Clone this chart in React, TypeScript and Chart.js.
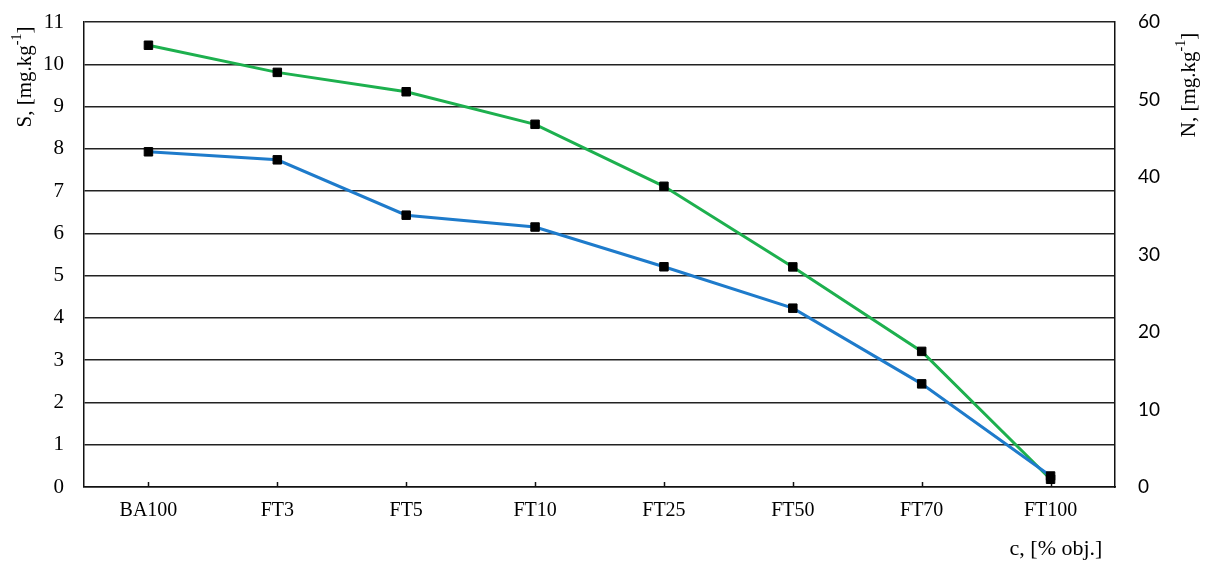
import React, { useEffect, useRef } from "react";
import { Chart, registerables } from "chart.js";

Chart.register(...registerables);

// Samples along the x axis
const categories = ["BA100", "FT3", "FT5", "FT10", "FT25", "FT50", "FT70", "FT100"];
// S content, mg.kg-1 (left axis)
const sValues = [7.93, 7.74, 6.43, 6.15, 5.21, 4.23, 2.44, 0.26];
// N content, mg.kg-1 (right axis)
const nValues = [57.0, 53.5, 51.0, 46.8, 38.8, 28.4, 17.5, 1.0];
// Axis ranges
const sMax = 11;
const nMax = 60;
const nStep = 10;

const SERIF = "'Liberation Serif', 'Times New Roman', serif";
const SANS = "Lato, 'Noto Sans', sans-serif";

// Draws a label with a "-1" superscript after "kg", e.g. "S, [mg.kg⁻¹]"
function drawSupLabel(ctx: CanvasRenderingContext2D, prefix: string, x: number, y: number, size: number) {
  const main1 = prefix + ", [mg.kg";
  const sup = "-1";
  const main2 = "]";
  const supSize = Math.round(size * 0.65);
  ctx.font = `${size}px ${SERIF}`;
  const w1 = ctx.measureText(main1).width;
  const w3 = ctx.measureText(main2).width;
  ctx.font = `${supSize}px ${SERIF}`;
  const w2 = ctx.measureText(sup).width;
  const total = w1 + w2 + w3;
  ctx.save();
  ctx.translate(x, y);
  ctx.rotate(-Math.PI / 2);
  ctx.textBaseline = "middle";
  ctx.textAlign = "left";
  ctx.fillStyle = "#000";
  let cx = -total / 2;
  ctx.font = `${size}px ${SERIF}`;
  ctx.fillText(main1, cx, 0);
  cx += w1;
  ctx.font = `${supSize}px ${SERIF}`;
  ctx.fillText(sup, cx, -size * 0.35);
  cx += w2;
  ctx.font = `${size}px ${SERIF}`;
  ctx.fillText(main2, cx, 0);
  ctx.restore();
}

const decorations = {
  id: "decorations",
  beforeDatasetsDraw(chart: any) {
    const { ctx, chartArea, scales } = chart;
    const x = scales.x;
    ctx.save();
    ctx.strokeStyle = "#111";
    ctx.lineWidth = 1.5;
    for (let i = 0; i < categories.length; i++) {
      const px = Math.round(x.getPixelForValue(i)) + 0.5;
      ctx.beginPath();
      ctx.moveTo(px, chartArea.bottom);
      ctx.lineTo(px, chartArea.bottom - 5);
      ctx.stroke();
    }
    ctx.restore();
  },
  afterDraw(chart: any) {
    const { ctx } = chart;
    drawSupLabel(ctx, "S", 25, 77, 21);
    drawSupLabel(ctx, "N", 1189, 85, 21);
    ctx.save();
    ctx.font = `22px ${SERIF}`;
    ctx.fillStyle = "#000";
    ctx.textAlign = "center";
    ctx.textBaseline = "middle";
    ctx.fillText("c, [% obj.]", 1056, 549);
    ctx.restore();
  },
};

// Fixed axis widths; tick label overflow is handled by the layout padding
function fitVertical(width: number) {
  return (scale: any) => {
    scale.width = width;
    scale.paddingTop = 0;
    scale.paddingBottom = 0;
  };
}

export default function App() {
  const canvasRef = useRef<HTMLCanvasElement | null>(null);

  useEffect(() => {
    document.body.style.margin = "0";
    const canvas = canvasRef.current;
    if (!canvas) return;
    const chart = new Chart(canvas, {
      type: "line",
      data: {
        labels: categories,
        datasets: [
          {
            label: "S",
            data: sValues,
            yAxisID: "yS",
            borderColor: "#1E7BCB",
            borderWidth: 3,
            pointStyle: "rect",
            pointRadius: 6,
            pointBackgroundColor: "#000",
            pointBorderColor: "#000",
            pointBorderWidth: 1,
            tension: 0,
          },
          {
            label: "N",
            data: nValues,
            yAxisID: "yN",
            borderColor: "#1DB04E",
            borderWidth: 3,
            pointStyle: "rect",
            pointRadius: 6,
            pointBackgroundColor: "#000",
            pointBorderColor: "#000",
            pointBorderWidth: 1,
            tension: 0,
          },
        ],
      },
      options: {
        animation: false,
        responsive: false,
        devicePixelRatio: 1,
        layout: { padding: { top: 22, left: 0, right: 0, bottom: 0 } },
        plugins: {
          legend: { display: false },
          tooltip: { enabled: false },
        },
        scales: {
          x: {
            type: "category",
            offset: true,
            grid: { display: false, drawTicks: false },
            border: { display: true, color: "#111", width: 1.5 },
            ticks: {
              color: "#000",
              font: { family: SERIF, size: 20 },
              padding: 12,
              maxRotation: 0,
            },
            afterFit(scale: any) {
              scale.height = 81;
            },
          },
          yS: {
            type: "linear",
            position: "left",
            min: 0,
            max: sMax,
            grid: { color: "#222", lineWidth: 1.5, drawTicks: false },
            border: { display: true, color: "#111", width: 1.5 },
            ticks: {
              stepSize: 1,
              color: "#000",
              font: { family: SERIF, size: 21 },
              padding: 20,
            },
            afterFit: fitVertical(84),
          },
          yN: {
            type: "linear",
            position: "right",
            min: 0,
            max: nMax,
            grid: { display: false, drawTicks: false },
            border: { display: true, color: "#111", width: 1.5 },
            ticks: {
              stepSize: nStep,
              color: "#000",
              font: { family: SANS, size: 19 },
              padding: 23,
            },
            afterFit: fitVertical(93),
          },
        },
      },
      plugins: [decorations],
    } as any);
    return () => chart.destroy();
  }, []);

  return (
    <div style={{ width: 1208, height: 568 }}>
      <canvas ref={canvasRef} width={1208} height={568} style={{ display: "block" }} />
    </div>
  );
}
